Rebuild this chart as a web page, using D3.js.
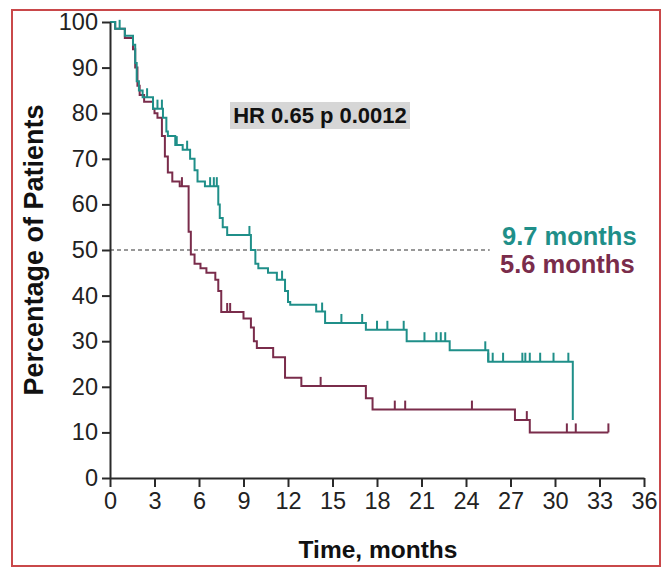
<!DOCTYPE html>
<html>
<head>
<meta charset="utf-8">
<script src="https://cdn.jsdelivr.net/npm/d3@7"></script>
<style>
  html, body { margin: 0; padding: 0; background: #fff; }
  svg { display: block; font-family: "Liberation Sans", Arial, sans-serif; }
</style>
</head>
<body>
<svg id="chart"></svg>
<script>
// Kaplan-Meier steps: [time in months, % of patients after the drop]
var tealSteps = [
  [0, 100], [0.35, 98.5], [1.0, 97], [1.55, 95], [1.7, 91], [1.8, 87], [1.95, 85],
  [2.2, 83.5], [2.9, 81], [3.57, 79], [3.8, 76], [3.9, 75], [4.4, 73], [4.9, 72],
  [5.4, 70], [5.7, 67.5], [5.9, 65], [6.4, 64], [7.3, 60], [7.4, 57], [7.6, 55],
  [7.9, 53.3], [9.5, 50], [9.8, 47], [10.0, 46], [10.65, 45], [11.25, 43.5],
  [11.8, 41], [12.0, 38.6], [12.15, 38], [13.9, 36.5], [14.5, 34], [17.25, 32.5],
  [20.0, 30], [22.9, 28], [25.5, 25.5], [31.2, 12.7]
];
var tealEnd = 31.2;
var tealCensored = [0.65, 2.5, 3.2, 3.5, 4.5, 5.2, 6.75, 7.0, 7.2, 9.4, 11.6, 14.3,
  15.6, 17.0, 18.0, 18.7, 19.8, 21.2, 22.0, 22.3, 22.6, 25.3, 25.5, 25.8, 26.5,
  27.8, 28.0, 28.3, 29.0, 29.9, 30.9];

var maroonSteps = [
  [0, 100], [0.35, 98.5], [1.0, 96.5], [1.55, 94], [1.7, 90], [1.85, 86], [2.0, 84],
  [2.3, 82.5], [2.9, 81], [3.0, 80], [3.2, 79], [3.5, 75], [3.7, 70.5], [3.9, 67],
  [4.2, 65], [4.7, 64], [5.3, 54], [5.45, 49], [5.7, 47], [6.1, 46], [6.5, 45],
  [7.1, 43.5], [7.3, 41], [7.5, 36.4], [9.0, 35], [9.5, 33], [9.7, 30], [9.9, 28.5],
  [11.0, 26.5], [11.8, 22], [12.9, 20.2], [17.25, 17.5], [17.7, 15], [27.3, 12.7],
  [28.3, 10]
];
var maroonEnd = 33.6;
var maroonCensored = [4.85, 7.9, 8.1, 14.2, 19.2, 19.9, 24.4, 28.1, 30.8, 31.4, 33.6];

var xTicks = d3.range(0, 37, 3);
var yTicks = d3.range(0, 101, 10);
var medianLabels = ["9.7 months", "5.6 months"];
var hrLabel = "HR 0.65 p 0.0012";
var dashEnd = 25.6;

var teal = "#1f8f89", maroon = "#7a2c4b";
var w = 662, h = 567;

var svg = d3.select("#chart").attr("width", w).attr("height", h);

// red frame round the figure
svg.append("rect")
  .attr("x", 12).attr("y", 10).attr("width", 648).attr("height", 556)
  .attr("fill", "none").attr("stroke", "#c9484a").attr("stroke-width", 2);

var x = d3.scaleLinear().domain([0, 36]).range([110, 644]);
var y = d3.scaleLinear().domain([0, 100]).range([478, 22]);

// median line
svg.append("line")
  .attr("x1", x(0)).attr("x2", x(dashEnd))
  .attr("y1", y(50)).attr("y2", y(50))
  .attr("stroke", "#777").attr("stroke-width", 1.5)
  .attr("stroke-dasharray", "4,3");

function survAt(steps, t) {
  var s = steps[0][1];
  steps.forEach(function (d) { if (d[0] <= t) s = d[1]; });
  return s;
}

var line = d3.line()
  .x(function (d) { return x(d[0]); })
  .y(function (d) { return y(d[1]); })
  .curve(d3.curveStepAfter);

function drawCurve(steps, end, censored, color) {
  var pts = steps.concat([[end, steps[steps.length - 1][1]]]);
  svg.append("path")
    .attr("d", line(pts))
    .attr("fill", "none").attr("stroke", color).attr("stroke-width", 2);
  svg.append("g").selectAll("line")
    .data(censored)
    .enter()
    .append("line")
    .attr("x1", function (d) { return x(d); })
    .attr("x2", function (d) { return x(d); })
    .attr("y1", function (d) { return y(survAt(steps, d)); })
    .attr("y2", function (d) { return y(survAt(steps, d)) - 9; })
    .attr("stroke", color).attr("stroke-width", 2);
}

drawCurve(maroonSteps, maroonEnd, maroonCensored, maroon);
drawCurve(tealSteps, tealEnd, tealCensored, teal);

// axes
var xAxis = d3.axisBottom(x).tickValues(xTicks).tickSize(9).tickSizeOuter(0).tickPadding(5);
var yAxis = d3.axisLeft(y).tickValues(yTicks).tickSize(8).tickSizeOuter(0).tickPadding(4);

var gx = svg.append("g")
  .attr("transform", "translate(0," + y(0) + ")")
  .call(xAxis);
var gy = svg.append("g")
  .attr("transform", "translate(" + x(0) + ",0)")
  .call(yAxis);

[gx, gy].forEach(function (g) {
  g.selectAll("path, line").attr("stroke", "#2a2a2a").attr("stroke-width", 2);
  g.selectAll("text").attr("fill", "#222").style("font-size", "23.5px")
    .style("font-family", "'Liberation Sans', Arial, sans-serif");
});

// axis titles
svg.append("text")
  .attr("x", 378).attr("y", 558)
  .attr("text-anchor", "middle")
  .style("font-size", "24.5px").style("font-weight", "bold").attr("fill", "#111")
  .text("Time, months");

svg.append("text")
  .attr("transform", "translate(43,250) rotate(-90)")
  .attr("text-anchor", "middle")
  .style("font-size", "27px").style("font-weight", "bold").attr("fill", "#111")
  .text("Percentage of Patients");

// hazard ratio box
svg.append("rect")
  .attr("x", 230).attr("y", 102).attr("width", 180).attr("height", 27)
  .attr("fill", "#d6d6d6");
svg.append("text")
  .attr("x", 320).attr("y", 123)
  .attr("text-anchor", "middle")
  .style("font-size", "22px").style("font-weight", "bold").attr("fill", "#111")
  .text(hrLabel);

// medians
svg.append("text")
  .attr("x", 502).attr("y", 245)
  .style("font-size", "25.5px").style("font-weight", "bold").attr("fill", teal)
  .text(medianLabels[0]);
svg.append("text")
  .attr("x", 500).attr("y", 273)
  .style("font-size", "25.5px").style("font-weight", "bold").attr("fill", maroon)
  .text(medianLabels[1]);
</script>
</body>
</html>
